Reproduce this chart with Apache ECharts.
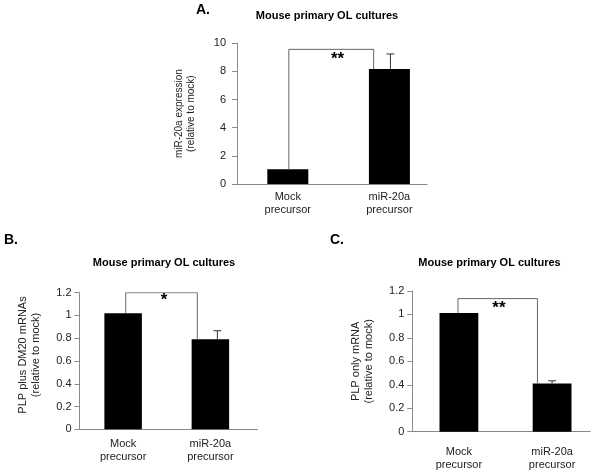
<!DOCTYPE html>
<html><head><meta charset="utf-8">
<script src="https://cdn.jsdelivr.net/npm/echarts@6/dist/echarts.min.js"></script>
<style>html,body{margin:0;padding:0;background:#fff}#c{width:600px;height:476px}</style>
</head><body><div id="c"></div>
<script>
// ---- data ----
const categories = ['Mock\nprecursor', 'miR-20a\nprecursor'];
const catPos = [0.5, 1.5];
const panelLetters = ['A.', 'B.', 'C.'];
const panelTitle = 'Mouse primary OL cultures';
const yNames = ['miR-20a expression\n(relative to mock)', 'PLP plus DM20 mRNAs\n(relative to mock)', 'PLP only mRNA\n(relative to mock)'];
const valuesA = [1.04, 8.17];
const valuesB = [1.02, 0.79];
const valuesC = [1.013, 0.412];
const errTopA = [null, 9.24];
const errTopB = [null, 0.866];
const errTopC = [null, 0.434];
const errXA = [0.5, 1.51];
const errXB = [0.5, 1.58];
const errXC = [0.5, 1.5];
const bracketXA = [0.51, 1.345], bracketYA = 9.57;
const bracketXB = [0.53, 1.35], bracketYB = 1.2;
const bracketXC = [0.49, 1.343], bracketYC = 1.135;
const starsA = ['**', 0.99, 8.85];
const starsB = ['*', 0.97, 1.136];
const starsC = ['**', 0.93, 1.05];
const yTicksA = [0, 10, 2];
const yTicksB = [0, 1.2, 0.2];
const yTicksC = [0, 1.2, 0.2];

const FONT = 'Liberation Sans, Arial, Helvetica, sans-serif';
const chart = echarts.init(document.getElementById('c'), null, {renderer: 'canvas'});

const grids = [
  {left: 237, top: 43.3, width: 190, height: 140.7},
  {left: 79.5, top: 292.7, width: 178, height: 136.6},
  {left: 412.3, top: 291, width: 178, height: 140.7}
];
const xMax = [1.87, 2.04, 1.91];
const labelMargins = [6, 8, 14];
const tickMargins = [11, 8, 8];
const nameGaps = [40, 37.5, 37];
const nameSizes = [10, 11, 11];
const namePads = [[0, 0, 0, 0], [0, 0, 0, 12], [0, 0, 0, 0]];
const yTicks = [yTicksA, yTicksB, yTicksC];
const values = [valuesA, valuesB, valuesC];
const errTops = [errTopA, errTopB, errTopC];
const errXs = [errXA, errXB, errXC];
const bracketXs = [bracketXA, bracketXB, bracketXC];
const bracketYs = [bracketYA, bracketYB, bracketYC];
const stars = [starsA, starsB, starsC];
const barWidths = [41, 37.5, 38.8];

const xAxis = [], yAxis = [], series = [];
for (let i = 0; i < 3; i++) {
  xAxis.push({
    type: 'value', gridIndex: i, min: 0, max: xMax[i],
    axisLine: {show: true, lineStyle: {color: '#8a8a8a', width: 1}},
    axisTick: {show: false}, splitLine: {show: false},
    axisLabel: {
      customValues: catPos, margin: labelMargins[i],
      fontFamily: FONT, fontSize: 11, lineHeight: 13, color: '#222',
      formatter: v => categories[catPos.indexOf(v)] || ''
    }
  });
  yAxis.push({
    type: 'value', gridIndex: i, min: yTicks[i][0], max: yTicks[i][1], interval: yTicks[i][2],
    axisLine: {show: true, lineStyle: {color: '#8a8a8a', width: 1}},
    axisTick: {show: true, length: 5, lineStyle: {color: '#8a8a8a'}},
    splitLine: {show: false},
    axisLabel: {fontFamily: FONT, fontSize: 11, color: '#222', margin: tickMargins[i]},
    name: yNames[i], nameLocation: 'middle', nameGap: nameGaps[i],
    nameTextStyle: {fontFamily: FONT, fontSize: nameSizes[i], lineHeight: nameSizes[i] + 2, color: '#222', padding: namePads[i]}
  });
  series.push({
    type: 'bar', xAxisIndex: i, yAxisIndex: i, barWidth: barWidths[i],
    itemStyle: {color: '#000'}, silent: true,
    data: catPos.map((x, k) => [x, values[i][k]])
  });
  const errData = [];
  catPos.forEach((x, k) => { if (errTops[i][k] != null) errData.push([errXs[i][k], values[i][k], errTops[i][k]]); });
  series.push({
    type: 'custom', xAxisIndex: i, yAxisIndex: i, silent: true, z: 3,
    data: errData,
    renderItem: (params, api) => {
      const b = api.coord([api.value(0), api.value(1)]);
      const t = api.coord([api.value(0), api.value(2)]);
      const st = {stroke: '#333', lineWidth: 1};
      return {type: 'group', children: [
        {type: 'line', shape: {x1: t[0], y1: b[1], x2: t[0], y2: t[1]}, style: st},
        {type: 'line', shape: {x1: t[0] - 4, y1: t[1], x2: t[0] + 4, y2: t[1]}, style: st}
      ]};
    }
  });
  series.push({
    type: 'line', xAxisIndex: i, yAxisIndex: i, silent: true, symbol: 'none', z: 4,
    lineStyle: {color: '#666', width: 1},
    data: [[bracketXs[i][0], values[i][0]], [bracketXs[i][0], bracketYs[i]], [bracketXs[i][1], bracketYs[i]], [bracketXs[i][1], values[i][1]]]
  });
  const starIdx = i;
  series.push({
    type: 'custom', xAxisIndex: i, yAxisIndex: i, silent: true, z: 5,
    data: [[stars[i][1], stars[i][2]]],
    renderItem: (params, api) => {
      const p = api.coord([api.value(0), api.value(1)]);
      return {type: 'text', x: p[0], y: p[1], style: {
        text: stars[starIdx][0],
        font: 'bold 17px ' + FONT, fill: '#000', align: 'center', verticalAlign: 'middle'}};
    }
  });
}

const titleStyle = {fontFamily: FONT, fontSize: 11, fontWeight: 'bold', color: '#000'};
const letterStyle = {fontFamily: FONT, fontSize: 14, fontWeight: 'bold', color: '#000'};
const option = {
  animation: false,
  backgroundColor: '#fff',
  title: [
    {text: panelTitle, left: 327, top: 10, textAlign: 'center', textStyle: titleStyle, padding: 0},
    {text: panelTitle, left: 164, top: 257, textAlign: 'center', textStyle: titleStyle, padding: 0},
    {text: panelTitle, left: 489.5, top: 257, textAlign: 'center', textStyle: titleStyle, padding: 0},
    {text: panelLetters[0], left: 196, top: 3, textStyle: letterStyle, padding: 0},
    {text: panelLetters[1], left: 4, top: 233, textStyle: letterStyle, padding: 0},
    {text: panelLetters[2], left: 330, top: 233, textStyle: letterStyle, padding: 0}
  ],
  grid: grids,
  xAxis, yAxis, series
};
chart.setOption(option);
</script>
</body></html>
